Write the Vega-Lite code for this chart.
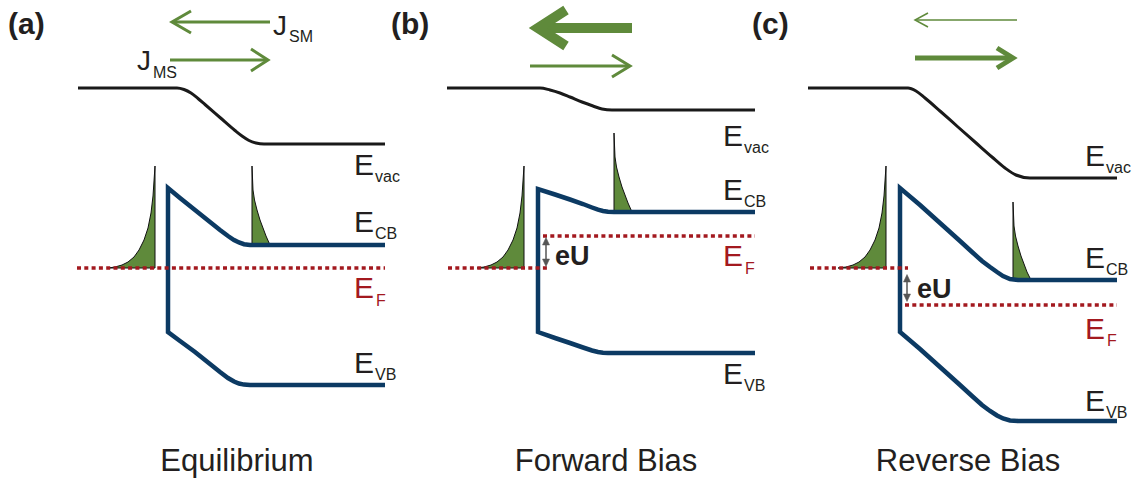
{
  "$schema": "https://vega.github.io/schema/vega-lite/v6.json",
  "width": 1141,
  "height": 483,
  "autosize": {"type": "none"},
  "padding": 0,
  "background": "white",
  "config": {"view": {"stroke": null}},
  "datasets": {
    "paths": [
      {"g": "dist", "id": "da1", "x": 108, "y": 268}, {"g": "dist", "id": "da1", "x": 115, "y": 267}, {"g": "dist", "id": "da1", "x": 122, "y": 265}, {"g": "dist", "id": "da1", "x": 128, "y": 262}, {"g": "dist", "id": "da1", "x": 134, "y": 257}, {"g": "dist", "id": "da1", "x": 139, "y": 250}, {"g": "dist", "id": "da1", "x": 144, "y": 240}, {"g": "dist", "id": "da1", "x": 148, "y": 228}, {"g": "dist", "id": "da1", "x": 151, "y": 213}, {"g": "dist", "id": "da1", "x": 153, "y": 196}, {"g": "dist", "id": "da1", "x": 154, "y": 181}, {"g": "dist", "id": "da1", "x": 155, "y": 166}, {"g": "dist", "id": "da1", "x": 155, "y": 268}, {"g": "dist", "id": "da1", "x": 108, "y": 268},
      {"g": "dist", "id": "db1", "x": 477, "y": 268}, {"g": "dist", "id": "db1", "x": 484, "y": 267}, {"g": "dist", "id": "db1", "x": 491, "y": 265}, {"g": "dist", "id": "db1", "x": 497, "y": 262}, {"g": "dist", "id": "db1", "x": 503, "y": 257}, {"g": "dist", "id": "db1", "x": 508, "y": 250}, {"g": "dist", "id": "db1", "x": 513, "y": 240}, {"g": "dist", "id": "db1", "x": 517, "y": 228}, {"g": "dist", "id": "db1", "x": 520, "y": 213}, {"g": "dist", "id": "db1", "x": 522, "y": 196}, {"g": "dist", "id": "db1", "x": 523, "y": 181}, {"g": "dist", "id": "db1", "x": 524, "y": 166}, {"g": "dist", "id": "db1", "x": 524, "y": 268}, {"g": "dist", "id": "db1", "x": 477, "y": 268},
      {"g": "dist", "id": "dc1", "x": 838, "y": 268}, {"g": "dist", "id": "dc1", "x": 846, "y": 267}, {"g": "dist", "id": "dc1", "x": 853, "y": 265}, {"g": "dist", "id": "dc1", "x": 859, "y": 262}, {"g": "dist", "id": "dc1", "x": 865, "y": 257}, {"g": "dist", "id": "dc1", "x": 870, "y": 250}, {"g": "dist", "id": "dc1", "x": 875, "y": 240}, {"g": "dist", "id": "dc1", "x": 879, "y": 228}, {"g": "dist", "id": "dc1", "x": 882, "y": 213}, {"g": "dist", "id": "dc1", "x": 884, "y": 196}, {"g": "dist", "id": "dc1", "x": 885, "y": 181}, {"g": "dist", "id": "dc1", "x": 886, "y": 166}, {"g": "dist", "id": "dc1", "x": 886, "y": 268}, {"g": "dist", "id": "dc1", "x": 838, "y": 268},
      {"g": "dist", "id": "da2", "x": 252, "y": 166}, {"g": "dist", "id": "da2", "x": 252.5, "y": 178}, {"g": "dist", "id": "da2", "x": 253, "y": 190}, {"g": "dist", "id": "da2", "x": 254.5, "y": 200}, {"g": "dist", "id": "da2", "x": 257, "y": 210}, {"g": "dist", "id": "da2", "x": 260, "y": 220}, {"g": "dist", "id": "da2", "x": 263, "y": 228}, {"g": "dist", "id": "da2", "x": 266, "y": 236}, {"g": "dist", "id": "da2", "x": 270, "y": 245}, {"g": "dist", "id": "da2", "x": 252, "y": 245}, {"g": "dist", "id": "da2", "x": 252, "y": 166},
      {"g": "dist", "id": "db2", "x": 614, "y": 133}, {"g": "dist", "id": "db2", "x": 614.5, "y": 145}, {"g": "dist", "id": "db2", "x": 615, "y": 157}, {"g": "dist", "id": "db2", "x": 616.5, "y": 167}, {"g": "dist", "id": "db2", "x": 619, "y": 177}, {"g": "dist", "id": "db2", "x": 622, "y": 187}, {"g": "dist", "id": "db2", "x": 625, "y": 195}, {"g": "dist", "id": "db2", "x": 628, "y": 203}, {"g": "dist", "id": "db2", "x": 632, "y": 212}, {"g": "dist", "id": "db2", "x": 614, "y": 212}, {"g": "dist", "id": "db2", "x": 614, "y": 133},
      {"g": "dist", "id": "dc2", "x": 1013, "y": 202}, {"g": "dist", "id": "dc2", "x": 1013.5, "y": 214}, {"g": "dist", "id": "dc2", "x": 1014, "y": 226}, {"g": "dist", "id": "dc2", "x": 1015.5, "y": 236}, {"g": "dist", "id": "dc2", "x": 1018, "y": 246}, {"g": "dist", "id": "dc2", "x": 1021, "y": 256}, {"g": "dist", "id": "dc2", "x": 1024, "y": 264}, {"g": "dist", "id": "dc2", "x": 1027, "y": 272}, {"g": "dist", "id": "dc2", "x": 1031, "y": 280}, {"g": "dist", "id": "dc2", "x": 1013, "y": 280}, {"g": "dist", "id": "dc2", "x": 1013, "y": 202},

      {"g": "evac", "id": "ea", "x": 78, "y": 88}, {"g": "evac", "id": "ea", "x": 177, "y": 88}, {"g": "evac", "id": "ea", "x": 184, "y": 89.5}, {"g": "evac", "id": "ea", "x": 191, "y": 93}, {"g": "evac", "id": "ea", "x": 198, "y": 98.5}, {"g": "evac", "id": "ea", "x": 205, "y": 104.5}, {"g": "evac", "id": "ea", "x": 220, "y": 117.5}, {"g": "evac", "id": "ea", "x": 235, "y": 130.5}, {"g": "evac", "id": "ea", "x": 242, "y": 136}, {"g": "evac", "id": "ea", "x": 249, "y": 140.5}, {"g": "evac", "id": "ea", "x": 256, "y": 143}, {"g": "evac", "id": "ea", "x": 264, "y": 144}, {"g": "evac", "id": "ea", "x": 385, "y": 144},
      {"g": "evac", "id": "eb", "x": 447, "y": 88}, {"g": "evac", "id": "eb", "x": 540, "y": 88}, {"g": "evac", "id": "eb", "x": 550, "y": 90}, {"g": "evac", "id": "eb", "x": 560, "y": 93}, {"g": "evac", "id": "eb", "x": 570, "y": 97}, {"g": "evac", "id": "eb", "x": 582, "y": 102}, {"g": "evac", "id": "eb", "x": 593, "y": 106}, {"g": "evac", "id": "eb", "x": 602, "y": 109}, {"g": "evac", "id": "eb", "x": 612, "y": 110}, {"g": "evac", "id": "eb", "x": 755, "y": 110},
      {"g": "evac", "id": "ec", "x": 808, "y": 88}, {"g": "evac", "id": "ec", "x": 908, "y": 88}, {"g": "evac", "id": "ec", "x": 916, "y": 91}, {"g": "evac", "id": "ec", "x": 925, "y": 98}, {"g": "evac", "id": "ec", "x": 940, "y": 111}, {"g": "evac", "id": "ec", "x": 958, "y": 127}, {"g": "evac", "id": "ec", "x": 975, "y": 142}, {"g": "evac", "id": "ec", "x": 992, "y": 157}, {"g": "evac", "id": "ec", "x": 1005, "y": 168}, {"g": "evac", "id": "ec", "x": 1016, "y": 175}, {"g": "evac", "id": "ec", "x": 1030, "y": 178}, {"g": "evac", "id": "ec", "x": 1117, "y": 178},

      {"g": "band", "id": "ba", "x": 385, "y": 385}, {"g": "band", "id": "ba", "x": 250, "y": 385}, {"g": "band", "id": "ba", "x": 244, "y": 384.6}, {"g": "band", "id": "ba", "x": 239, "y": 383.5}, {"g": "band", "id": "ba", "x": 234, "y": 381.5}, {"g": "band", "id": "ba", "x": 228, "y": 378}, {"g": "band", "id": "ba", "x": 220, "y": 372}, {"g": "band", "id": "ba", "x": 210, "y": 364}, {"g": "band", "id": "ba", "x": 195, "y": 352}, {"g": "band", "id": "ba", "x": 180, "y": 341}, {"g": "band", "id": "ba", "x": 168, "y": 332}, {"g": "band", "id": "ba", "x": 168, "y": 188}, {"g": "band", "id": "ba", "x": 180, "y": 198}, {"g": "band", "id": "ba", "x": 195, "y": 210}, {"g": "band", "id": "ba", "x": 210, "y": 222}, {"g": "band", "id": "ba", "x": 220, "y": 230}, {"g": "band", "id": "ba", "x": 228, "y": 236}, {"g": "band", "id": "ba", "x": 234, "y": 240}, {"g": "band", "id": "ba", "x": 239, "y": 242.5}, {"g": "band", "id": "ba", "x": 244, "y": 244.2}, {"g": "band", "id": "ba", "x": 250, "y": 245}, {"g": "band", "id": "ba", "x": 385, "y": 245},
      {"g": "band", "id": "bb", "x": 755, "y": 353}, {"g": "band", "id": "bb", "x": 608, "y": 353}, {"g": "band", "id": "bb", "x": 603, "y": 352.7}, {"g": "band", "id": "bb", "x": 598, "y": 352}, {"g": "band", "id": "bb", "x": 592, "y": 350.5}, {"g": "band", "id": "bb", "x": 583, "y": 347.5}, {"g": "band", "id": "bb", "x": 570, "y": 343}, {"g": "band", "id": "bb", "x": 555, "y": 338}, {"g": "band", "id": "bb", "x": 538, "y": 332}, {"g": "band", "id": "bb", "x": 538, "y": 189}, {"g": "band", "id": "bb", "x": 555, "y": 194.5}, {"g": "band", "id": "bb", "x": 570, "y": 199.5}, {"g": "band", "id": "bb", "x": 583, "y": 204}, {"g": "band", "id": "bb", "x": 592, "y": 207.5}, {"g": "band", "id": "bb", "x": 598, "y": 209.7}, {"g": "band", "id": "bb", "x": 603, "y": 211}, {"g": "band", "id": "bb", "x": 608, "y": 211.8}, {"g": "band", "id": "bb", "x": 614, "y": 212}, {"g": "band", "id": "bb", "x": 755, "y": 212},
      {"g": "band", "id": "bc", "x": 1117, "y": 421}, {"g": "band", "id": "bc", "x": 1018, "y": 421}, {"g": "band", "id": "bc", "x": 1010, "y": 420.5}, {"g": "band", "id": "bc", "x": 1003, "y": 418.5}, {"g": "band", "id": "bc", "x": 997, "y": 415.5}, {"g": "band", "id": "bc", "x": 990, "y": 411}, {"g": "band", "id": "bc", "x": 982, "y": 405}, {"g": "band", "id": "bc", "x": 972, "y": 396}, {"g": "band", "id": "bc", "x": 960, "y": 385}, {"g": "band", "id": "bc", "x": 940, "y": 367}, {"g": "band", "id": "bc", "x": 920, "y": 349}, {"g": "band", "id": "bc", "x": 900, "y": 332}, {"g": "band", "id": "bc", "x": 900, "y": 188}, {"g": "band", "id": "bc", "x": 920, "y": 205}, {"g": "band", "id": "bc", "x": 940, "y": 223}, {"g": "band", "id": "bc", "x": 960, "y": 241}, {"g": "band", "id": "bc", "x": 972, "y": 252}, {"g": "band", "id": "bc", "x": 982, "y": 261}, {"g": "band", "id": "bc", "x": 990, "y": 267}, {"g": "band", "id": "bc", "x": 997, "y": 272}, {"g": "band", "id": "bc", "x": 1003, "y": 276}, {"g": "band", "id": "bc", "x": 1010, "y": 279}, {"g": "band", "id": "bc", "x": 1018, "y": 280}, {"g": "band", "id": "bc", "x": 1117, "y": 280},

      {"g": "fermi", "id": "fa", "x": 77, "y": 268}, {"g": "fermi", "id": "fa", "x": 385, "y": 268},
      {"g": "fermi", "id": "fb1", "x": 448, "y": 268}, {"g": "fermi", "id": "fb1", "x": 547, "y": 268},
      {"g": "fermi", "id": "fb2", "x": 543, "y": 236}, {"g": "fermi", "id": "fb2", "x": 755, "y": 236},
      {"g": "fermi", "id": "fc1", "x": 810, "y": 268}, {"g": "fermi", "id": "fc1", "x": 908, "y": 268},
      {"g": "fermi", "id": "fc2", "x": 905, "y": 305}, {"g": "fermi", "id": "fc2", "x": 1117, "y": 305},

      {"g": "arr3", "id": "jsm", "x": 270, "y": 22}, {"g": "arr3", "id": "jsm", "x": 173, "y": 22},
      {"g": "arr3", "id": "jsmh", "x": 191, "y": 11}, {"g": "arr3", "id": "jsmh", "x": 172, "y": 22}, {"g": "arr3", "id": "jsmh", "x": 191, "y": 33},
      {"g": "arr3", "id": "jms", "x": 170, "y": 60}, {"g": "arr3", "id": "jms", "x": 267, "y": 60},
      {"g": "arr3", "id": "jmsh", "x": 251, "y": 49}, {"g": "arr3", "id": "jmsh", "x": 268, "y": 60}, {"g": "arr3", "id": "jmsh", "x": 251, "y": 71},
      {"g": "arr3", "id": "bms", "x": 530, "y": 66}, {"g": "arr3", "id": "bms", "x": 629, "y": 66},
      {"g": "arr3", "id": "bmsh", "x": 612, "y": 55}, {"g": "arr3", "id": "bmsh", "x": 630, "y": 66}, {"g": "arr3", "id": "bmsh", "x": 612, "y": 77},
      {"g": "arr10", "id": "bsm", "x": 632, "y": 28}, {"g": "arr10", "id": "bsm", "x": 542, "y": 28},
      {"g": "arr10", "id": "bsmh", "x": 566, "y": 10}, {"g": "arr10", "id": "bsmh", "x": 538, "y": 28}, {"g": "arr10", "id": "bsmh", "x": 566, "y": 46},
      {"g": "arr5", "id": "cms", "x": 915, "y": 58}, {"g": "arr5", "id": "cms", "x": 1010, "y": 58},
      {"g": "arr5", "id": "cmsh", "x": 997, "y": 48}, {"g": "arr5", "id": "cmsh", "x": 1013, "y": 58}, {"g": "arr5", "id": "cmsh", "x": 997, "y": 68},
      {"g": "arr1", "id": "csm", "x": 1017, "y": 20}, {"g": "arr1", "id": "csm", "x": 916, "y": 20},
      {"g": "arr1", "id": "csmh", "x": 928, "y": 13}, {"g": "arr1", "id": "csmh", "x": 915, "y": 20}, {"g": "arr1", "id": "csmh", "x": 928, "y": 27},

      {"g": "eu", "id": "eub", "x": 546, "y": 242}, {"g": "eu", "id": "eub", "x": 546, "y": 262},
      {"g": "eu", "id": "euc", "x": 907, "y": 279}, {"g": "eu", "id": "euc", "x": 907, "y": 297},
      {"g": "euh", "id": "eubh1", "x": 542.5, "y": 245}, {"g": "euh", "id": "eubh1", "x": 546, "y": 237.5}, {"g": "euh", "id": "eubh1", "x": 549.5, "y": 245}, {"g": "euh", "id": "eubh1", "x": 542.5, "y": 245},
      {"g": "euh", "id": "eubh2", "x": 542.5, "y": 259}, {"g": "euh", "id": "eubh2", "x": 546, "y": 266.5}, {"g": "euh", "id": "eubh2", "x": 549.5, "y": 259}, {"g": "euh", "id": "eubh2", "x": 542.5, "y": 259},
      {"g": "euh", "id": "euch1", "x": 903.5, "y": 282}, {"g": "euh", "id": "euch1", "x": 907, "y": 274.5}, {"g": "euh", "id": "euch1", "x": 910.5, "y": 282}, {"g": "euh", "id": "euch1", "x": 903.5, "y": 282},
      {"g": "euh", "id": "euch2", "x": 903.5, "y": 294}, {"g": "euh", "id": "euch2", "x": 907, "y": 301.5}, {"g": "euh", "id": "euch2", "x": 910.5, "y": 294}, {"g": "euh", "id": "euch2", "x": 903.5, "y": 294}
    ],
    "texts": [
      {"k": "panel", "t": "(a)", "x": 8, "y": 34},
      {"k": "panel", "t": "(b)", "x": 391, "y": 34},
      {"k": "panel", "t": "(c)", "x": 752, "y": 34},
      {"k": "J", "t": "J", "x": 273, "y": 35},
      {"k": "Jsub", "t": "SM", "x": 289, "y": 42},
      {"k": "J", "t": "J", "x": 137, "y": 70},
      {"k": "Jsub", "t": "MS", "x": 153, "y": 78},
      {"k": "E", "t": "E", "x": 354, "y": 175},
      {"k": "sub", "t": "vac", "x": 375, "y": 182},
      {"k": "E", "t": "E", "x": 354, "y": 232},
      {"k": "sub", "t": "CB", "x": 375, "y": 239},
      {"k": "Ered", "t": "E", "x": 354, "y": 298},
      {"k": "subred", "t": "F", "x": 376, "y": 306},
      {"k": "E", "t": "E", "x": 354, "y": 373},
      {"k": "sub", "t": "VB", "x": 375, "y": 380},
      {"k": "E", "t": "E", "x": 723, "y": 146},
      {"k": "sub", "t": "vac", "x": 744, "y": 153},
      {"k": "E", "t": "E", "x": 723, "y": 200},
      {"k": "sub", "t": "CB", "x": 744, "y": 207},
      {"k": "Ered", "t": "E", "x": 723, "y": 266},
      {"k": "subred", "t": "F", "x": 745, "y": 274},
      {"k": "E", "t": "E", "x": 723, "y": 384},
      {"k": "sub", "t": "VB", "x": 744, "y": 391},
      {"k": "E", "t": "E", "x": 1085, "y": 166},
      {"k": "sub", "t": "vac", "x": 1106, "y": 173},
      {"k": "E", "t": "E", "x": 1085, "y": 268},
      {"k": "sub", "t": "CB", "x": 1106, "y": 275},
      {"k": "Ered", "t": "E", "x": 1085, "y": 339},
      {"k": "subred", "t": "F", "x": 1107, "y": 346},
      {"k": "E", "t": "E", "x": 1085, "y": 411},
      {"k": "sub", "t": "VB", "x": 1106, "y": 418},
      {"k": "eU", "t": "eU", "x": 555, "y": 265},
      {"k": "eU", "t": "eU", "x": 917, "y": 298},
      {"k": "title", "t": "Equilibrium", "x": 237, "y": 471},
      {"k": "title", "t": "Forward Bias", "x": 606, "y": 471},
      {"k": "title", "t": "Reverse Bias", "x": 968, "y": 471}
    ]
  },
  "encoding": {
    "x": {"field": "x", "type": "quantitative", "scale": {"domain": [0, 1141], "nice": false, "zero": false}, "axis": null},
    "y": {"field": "y", "type": "quantitative", "scale": {"domain": [0, 483], "nice": false, "zero": false, "reverse": true}, "axis": null}
  },
  "layer": [
    {
      "data": {"name": "paths"},
      "transform": [{"window": [{"op": "row_number", "as": "o"}]}, {"filter": "datum.g === 'dist'"}],
      "mark": {"type": "line", "fill": "#5f8a3b", "stroke": "#111111", "strokeWidth": 1, "strokeJoin": "miter"},
      "encoding": {"detail": {"field": "id"}, "order": {"field": "o", "type": "quantitative"}}
    },
    {
      "data": {"name": "paths"},
      "transform": [{"window": [{"op": "row_number", "as": "o"}]}, {"filter": "datum.g === 'evac'"}],
      "mark": {"type": "line", "color": "#1a1a1a", "strokeWidth": 3, "interpolate": "monotone"},
      "encoding": {"detail": {"field": "id"}, "order": {"field": "o", "type": "quantitative"}}
    },
    {
      "data": {"name": "paths"},
      "transform": [{"window": [{"op": "row_number", "as": "o"}]}, {"filter": "datum.g === 'band'"}],
      "mark": {"type": "line", "color": "#0c3a63", "strokeWidth": 4.5, "strokeJoin": "miter", "strokeCap": "butt"},
      "encoding": {"detail": {"field": "id"}, "order": {"field": "o", "type": "quantitative"}}
    },
    {
      "data": {"name": "paths"},
      "transform": [{"window": [{"op": "row_number", "as": "o"}]}, {"filter": "datum.g === 'fermi'"}],
      "mark": {"type": "line", "color": "#a3191f", "strokeWidth": 3.5, "strokeDash": [4, 3.3], "strokeCap": "butt"},
      "encoding": {"detail": {"field": "id"}, "order": {"field": "o", "type": "quantitative"}}
    },
    {
      "data": {"name": "paths"},
      "transform": [{"window": [{"op": "row_number", "as": "o"}]}, {"filter": "datum.g === 'arr3'"}],
      "mark": {"type": "line", "color": "#5f8a3b", "strokeWidth": 3, "strokeJoin": "miter", "strokeCap": "butt"},
      "encoding": {"detail": {"field": "id"}, "order": {"field": "o", "type": "quantitative"}}
    },
    {
      "data": {"name": "paths"},
      "transform": [{"window": [{"op": "row_number", "as": "o"}]}, {"filter": "datum.g === 'arr10'"}],
      "mark": {"type": "line", "color": "#5f8a3b", "strokeWidth": 10, "strokeJoin": "miter", "strokeCap": "butt"},
      "encoding": {"detail": {"field": "id"}, "order": {"field": "o", "type": "quantitative"}}
    },
    {
      "data": {"name": "paths"},
      "transform": [{"window": [{"op": "row_number", "as": "o"}]}, {"filter": "datum.g === 'arr5'"}],
      "mark": {"type": "line", "color": "#5f8a3b", "strokeWidth": 5, "strokeJoin": "miter", "strokeCap": "butt"},
      "encoding": {"detail": {"field": "id"}, "order": {"field": "o", "type": "quantitative"}}
    },
    {
      "data": {"name": "paths"},
      "transform": [{"window": [{"op": "row_number", "as": "o"}]}, {"filter": "datum.g === 'arr1'"}],
      "mark": {"type": "line", "color": "#5f8a3b", "strokeWidth": 1.5, "strokeJoin": "miter", "strokeCap": "butt"},
      "encoding": {"detail": {"field": "id"}, "order": {"field": "o", "type": "quantitative"}}
    },
    {
      "data": {"name": "paths"},
      "transform": [{"window": [{"op": "row_number", "as": "o"}]}, {"filter": "datum.g === 'eu'"}],
      "mark": {"type": "line", "color": "#555555", "strokeWidth": 1.5, "strokeCap": "butt"},
      "encoding": {"detail": {"field": "id"}, "order": {"field": "o", "type": "quantitative"}}
    },
    {
      "data": {"name": "paths"},
      "transform": [{"window": [{"op": "row_number", "as": "o"}]}, {"filter": "datum.g === 'euh'"}],
      "mark": {"type": "line", "fill": "#555555", "stroke": "#555555", "strokeWidth": 0.5},
      "encoding": {"detail": {"field": "id"}, "order": {"field": "o", "type": "quantitative"}}
    },
    {
      "data": {"name": "texts"},
      "transform": [{"filter": "datum.k === 'panel'"}],
      "mark": {"type": "text", "font": "Liberation Sans", "fontSize": 30, "fontWeight": "bold", "color": "#231f20", "align": "left", "baseline": "alphabetic"},
      "encoding": {"text": {"field": "t"}}
    },
    {
      "data": {"name": "texts"},
      "transform": [{"filter": "datum.k === 'J'"}],
      "mark": {"type": "text", "font": "Liberation Sans", "fontSize": 28, "color": "#231f20", "align": "left", "baseline": "alphabetic"},
      "encoding": {"text": {"field": "t"}}
    },
    {
      "data": {"name": "texts"},
      "transform": [{"filter": "datum.k === 'Jsub'"}],
      "mark": {"type": "text", "font": "Liberation Sans", "fontSize": 16, "color": "#231f20", "align": "left", "baseline": "alphabetic"},
      "encoding": {"text": {"field": "t"}}
    },
    {
      "data": {"name": "texts"},
      "transform": [{"filter": "datum.k === 'E'"}],
      "mark": {"type": "text", "font": "Liberation Sans", "fontSize": 30, "color": "#231f20", "align": "left", "baseline": "alphabetic"},
      "encoding": {"text": {"field": "t"}}
    },
    {
      "data": {"name": "texts"},
      "transform": [{"filter": "datum.k === 'sub'"}],
      "mark": {"type": "text", "font": "Liberation Sans", "fontSize": 16, "color": "#231f20", "align": "left", "baseline": "alphabetic"},
      "encoding": {"text": {"field": "t"}}
    },
    {
      "data": {"name": "texts"},
      "transform": [{"filter": "datum.k === 'Ered'"}],
      "mark": {"type": "text", "font": "Liberation Sans", "fontSize": 30, "color": "#a3191f", "align": "left", "baseline": "alphabetic"},
      "encoding": {"text": {"field": "t"}}
    },
    {
      "data": {"name": "texts"},
      "transform": [{"filter": "datum.k === 'subred'"}],
      "mark": {"type": "text", "font": "Liberation Sans", "fontSize": 16, "color": "#a3191f", "align": "left", "baseline": "alphabetic"},
      "encoding": {"text": {"field": "t"}}
    },
    {
      "data": {"name": "texts"},
      "transform": [{"filter": "datum.k === 'eU'"}],
      "mark": {"type": "text", "font": "Liberation Sans", "fontSize": 27, "fontWeight": "bold", "color": "#231f20", "align": "left", "baseline": "alphabetic"},
      "encoding": {"text": {"field": "t"}}
    },
    {
      "data": {"name": "texts"},
      "transform": [{"filter": "datum.k === 'title'"}],
      "mark": {"type": "text", "font": "Liberation Sans", "fontSize": 31, "color": "#231f20", "align": "center", "baseline": "alphabetic"},
      "encoding": {"text": {"field": "t"}}
    }
  ]
}
